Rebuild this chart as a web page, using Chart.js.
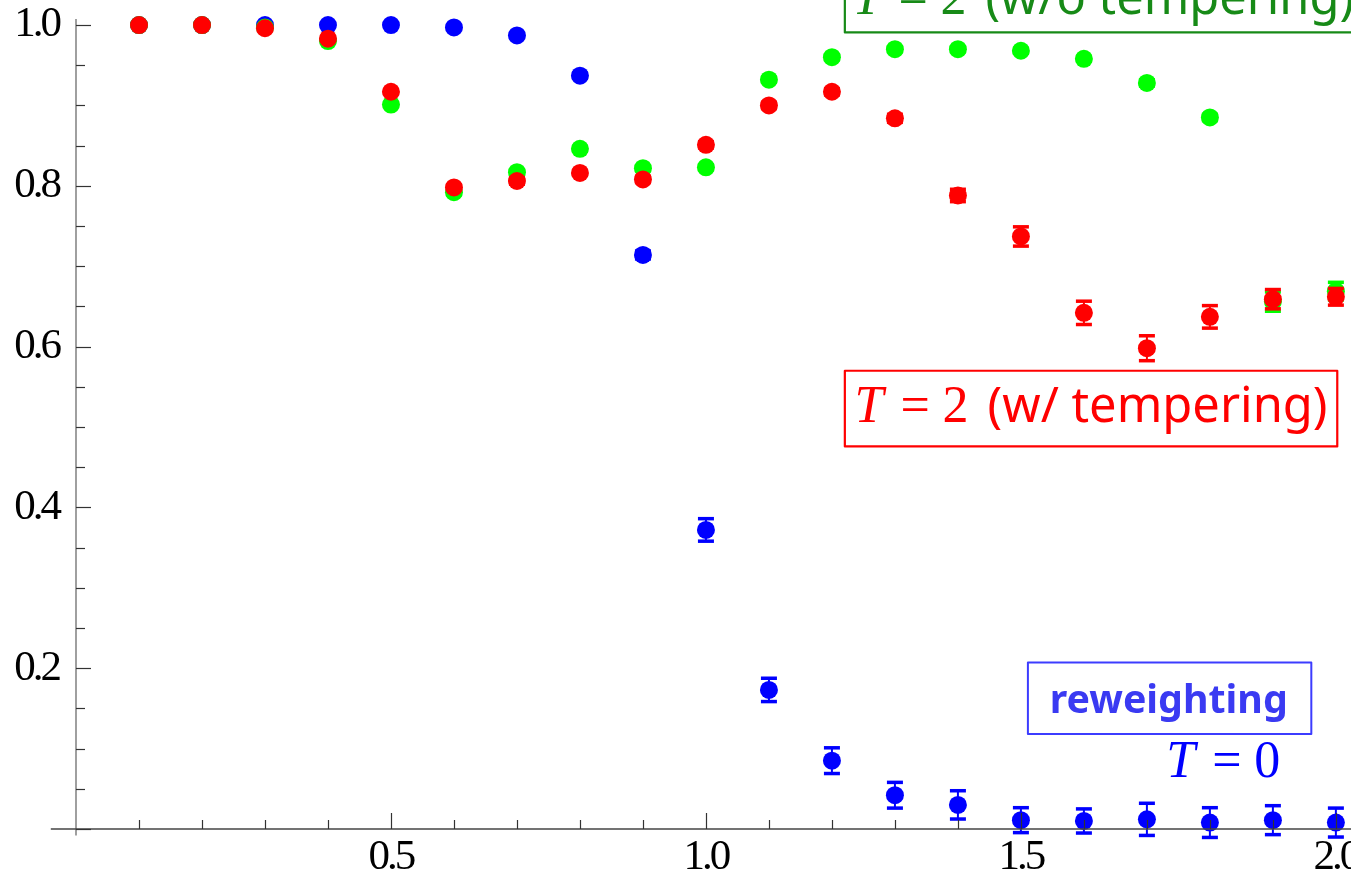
<!DOCTYPE html>
<html>
<head>
<meta charset="utf-8">
<script src="https://cdn.jsdelivr.net/npm/chart.js@4/dist/chart.umd.min.js"></script>
<style>
  html, body { margin: 0; padding: 0; background: #fff; overflow: hidden; }
  #wrap { width: 1351px; height: 883px; }
</style>
</head>
<body>
<div id="wrap"><canvas id="c" width="1351" height="883"></canvas></div>
<script>
// Coupling values on which the three runs were measured
const xValues = [0.1, 0.2, 0.3, 0.4, 0.5, 0.6, 0.7, 0.8, 0.9, 1.0,
                 1.1, 1.2, 1.3, 1.4, 1.5, 1.6, 1.7, 1.8, 1.9, 2.0];

// T = 0, reweighting
const reweightT0 = [1.000, 1.000, 1.000, 1.000, 1.000, 0.997, 0.987, 0.937, 0.714, 0.372,
                    0.173, 0.085, 0.042, 0.030, 0.011, 0.010, 0.012, 0.008, 0.011, 0.008];
const reweightT0Err = [0, 0, 0, 0, 0, 0.002, 0.002, 0.003, 0.005, 0.014,
                       0.0145, 0.016, 0.016, 0.0176, 0.0155, 0.015, 0.020, 0.0185, 0.018, 0.018];

// T = 2, without tempering
const noTemperT2 = [1.000, 1.000, 0.997, 0.980, 0.901, 0.792, 0.817, 0.846, 0.822, 0.823,
                    0.932, 0.960, 0.970, 0.970, 0.968, 0.958, 0.928, 0.885, 0.656, 0.669];
const noTemperT2Err = [0, 0, 0, 0.002, 0.002, 0.003, 0.003, 0.003, 0.003, 0.003,
                       0.003, 0.003, 0.003, 0.003, 0.003, 0.003, 0.004, 0.004, 0.012, 0.011];

// T = 2, with tempering
const temperT2 = [1.000, 1.000, 0.996, 0.983, 0.917, 0.798, 0.806, 0.816, 0.808, 0.851,
                  0.900, 0.917, 0.884, 0.788, 0.737, 0.642, 0.598, 0.637, 0.659, 0.662];
const temperT2Err = [0, 0, 0.002, 0.002, 0.002, 0.003, 0.004, 0.003, 0.004, 0.004,
                     0.004, 0.004, 0.005, 0.0077, 0.012, 0.0145, 0.0155, 0.014, 0.012, 0.0104];

// Labelled ticks
const xTickLabels = [0.5, 1.0, 1.5, 2.0];
const yTickLabels = [0.2, 0.4, 0.6, 0.8, 1.0];

const toPoints = (ys) => xValues.map((x, i) => ({ x: x, y: ys[i] }));

const SERIF = '"Liberation Serif", "Times New Roman", serif';
const SANS = '"Noto Sans", "Open Sans", sans-serif';

// Tight, Mathematica-like spacing for the numeric tick labels
const tightTicks = {
  id: 'tightTicks',
  beforeDraw(chart) { chart.ctx.letterSpacing = '-3px'; },
  afterDatasetsDraw(chart) { chart.ctx.letterSpacing = '0px'; }
};

// Vertical error bars, drawn just beneath each dataset's markers
const errorBars = {
  id: 'errorBars',
  beforeDatasetDraw(chart, args) {
    const ds = chart.data.datasets[args.index];
    if (!ds.errors) return;
    const ys = chart.scales.y;
    const ctx = chart.ctx;
    ctx.save();
    ctx.strokeStyle = ds.backgroundColor;
    ctx.fillStyle = ds.backgroundColor;
    ctx.lineWidth = 2;
    args.meta.data.forEach((pt, i) => {
      const e = ds.errors[i];
      if (!e) return;
      const v = ds.data[i].y;
      const top = ys.getPixelForValue(v + e);
      const bot = ys.getPixelForValue(v - e);
      ctx.beginPath();
      ctx.moveTo(pt.x, top);
      ctx.lineTo(pt.x, bot);
      ctx.stroke();
      ctx.fillRect(pt.x - 8, top - 1.75, 16, 3.5);
      ctx.fillRect(pt.x - 8, bot - 1.75, 16, 3.5);
    });
    ctx.restore();
  }
};

// Axes crossing at the origin with inward major/minor ticks, painted over the data
const crossAxes = {
  id: 'crossAxes',
  afterDatasetsDraw(chart) {
    const xs = chart.scales.x, ys = chart.scales.y, ctx = chart.ctx;
    const x0 = xs.getPixelForValue(0), y0 = ys.getPixelForValue(0);
    ctx.save();
    ctx.lineWidth = 1.4;
    ctx.strokeStyle = '#777';
    ctx.beginPath();
    ctx.moveTo(x0, ys.getPixelForValue(-0.008));
    ctx.lineTo(x0, ys.top);
    ctx.stroke();
    ctx.strokeStyle = '#444';
    ctx.beginPath();
    ctx.moveTo(xs.getPixelForValue(-0.04), y0);
    ctx.lineTo(xs.right, y0);
    ctx.stroke();

    ctx.lineWidth = 1.2;
    ctx.strokeStyle = '#333';
    for (let k = 0; k <= 20; k++) {
      const v = k * 0.05;
      const py = Math.round(ys.getPixelForValue(v)) + 0.5;
      const len = (k % 4 === 0) ? 15 : 9;
      ctx.beginPath();
      ctx.moveTo(x0, py);
      ctx.lineTo(x0 + len, py);
      ctx.stroke();
    }
    for (let k = 1; k <= 20; k++) {
      const v = k * 0.1;
      const px = Math.round(xs.getPixelForValue(v)) + 0.5;
      const len = (k % 5 === 0) ? 16 : 9;
      ctx.beginPath();
      ctx.moveTo(px, y0);
      ctx.lineTo(px, y0 - len);
      ctx.stroke();
    }
    ctx.restore();
  }
};

// Sans font sized so that a string spans a given width
function fitSans(ctx, text, weight, width) {
  ctx.font = weight + ' 100px ' + SANS;
  const size = 100 * width / ctx.measureText(text).width;
  return weight + ' ' + size.toFixed(2) + 'px ' + SANS;
}

// "T = n" in math style: italic T, upright equals sign and digit
function drawMath(ctx, xStart, base, digit, color) {
  ctx.fillStyle = color;
  ctx.textAlign = 'left';
  ctx.textBaseline = 'alphabetic';
  ctx.font = 'italic 52px ' + SERIF;
  ctx.fillText('T', xStart, base);
  ctx.font = '52px ' + SERIF;
  ctx.fillText('=', xStart + 46, base);
  ctx.fillText(digit, xStart + 88, base);
}

// Series labels in boxes
const seriesLabels = {
  id: 'seriesLabels',
  afterDraw(chart) {
    const xs = chart.scales.x, ys = chart.scales.y, ctx = chart.ctx;
    const X = (v) => xs.getPixelForValue(v);
    const Y = (v) => ys.getPixelForValue(v);
    ctx.save();
    ctx.letterSpacing = '0px';
    ctx.lineCap = 'round';
    ctx.lineJoin = 'round';

    // T = 2 (w/o tempering)
    const green = '#178a17';
    ctx.strokeStyle = green;
    ctx.lineWidth = 2.2;
    ctx.beginPath();
    ctx.moveTo(X(1.2205), Y(1.08));
    ctx.lineTo(X(1.2205), Y(0.9908));
    ctx.lineTo(X(2.2), Y(0.9908));
    ctx.stroke();
    drawMath(ctx, X(1.2325), Y(1.0140), '2', green);
    ctx.font = fitSans(ctx, '(w/o tempering', 'normal', 354);
    ctx.fillText('(w/o tempering)', X(1.2325) + 133, Y(1.0140));

    // T = 2 (w/ tempering)
    const red = '#ff0000';
    ctx.strokeStyle = red;
    ctx.lineWidth = 2.2;
    ctx.strokeRect(X(1.2205), Y(0.5700), X(2.0022) - X(1.2205), Y(0.4759) - Y(0.5700));
    drawMath(ctx, X(1.2360), Y(0.5064), '2', red);
    ctx.font = fitSans(ctx, '(w/ tempering)', 'normal', 340);
    ctx.fillText('(w/ tempering)', X(1.2360) + 133, Y(0.5064));

    // reweighting / T = 0
    ctx.strokeStyle = '#3c3cff';
    ctx.lineWidth = 2;
    ctx.strokeRect(X(1.5111), Y(0.2072), X(1.9610) - X(1.5111), Y(0.1182) - Y(0.2072));
    ctx.fillStyle = '#3a3af2';
    ctx.font = fitSans(ctx, 'reweighting', 'bold', 238);
    ctx.textAlign = 'center';
    ctx.fillText('reweighting', X(1.7347), Y(0.1443));
    drawMath(ctx, X(1.7308), Y(0.0647), '0', '#0000ff');
    ctx.restore();
  }
};

const markerStyle = (color, order) => ({
  backgroundColor: color,
  borderColor: color,
  borderWidth: 0,
  pointRadius: 9,
  pointHoverRadius: 9,
  showLine: false,
  clip: false,
  order: order
});

// Keep the plot area fixed: no extra room reserved for overhanging labels
const noLabelPadding = (s) => {
  s.paddingLeft = 0; s.paddingRight = 0; s.paddingTop = 0; s.paddingBottom = 0;
  s.getPadding = () => ({ left: 0, top: 0, right: 0, bottom: 0 });
};

new Chart(document.getElementById('c'), {
  type: 'scatter',
  data: {
    datasets: [
      Object.assign({ label: 'T = 0 (reweighting)', data: toPoints(reweightT0), errors: reweightT0Err }, markerStyle('#0000ff', 3)),
      Object.assign({ label: 'T = 2 (w/o tempering)', data: toPoints(noTemperT2), errors: noTemperT2Err }, markerStyle('#00ff00', 2)),
      Object.assign({ label: 'T = 2 (w/ tempering)', data: toPoints(temperT2), errors: temperT2Err }, markerStyle('#ff0000', 1))
    ]
  },
  options: {
    responsive: false,
    devicePixelRatio: 1,
    animation: false,
    events: [],
    layout: { autoPadding: false, padding: { top: 19, left: 0, right: 0, bottom: 0 } },
    plugins: { legend: { display: false }, tooltip: { enabled: false } },
    scales: {
      x: {
        type: 'linear',
        min: 0,
        max: 2.024,
        grid: { display: false, drawTicks: false },
        border: { display: false },
        afterFit: (s) => { s.height = 54; noLabelPadding(s); },
        afterBuildTicks: (s) => { s.ticks = xTickLabels.map(v => ({ value: v })); },
        ticks: {
          autoSkip: false,
          maxRotation: 0,
          padding: 3,
          color: '#000',
          font: { family: SERIF, size: 43 },
          callback: (v) => Number(v).toFixed(1)
        }
      },
      y: {
        type: 'linear',
        min: 0,
        max: 1.0075,
        grid: { display: false, drawTicks: false },
        border: { display: false },
        afterFit: (s) => { s.width = 76; noLabelPadding(s); },
        afterBuildTicks: (s) => { s.ticks = yTickLabels.map(v => ({ value: v })); },
        ticks: {
          autoSkip: false,
          padding: 17,
          color: '#000',
          font: { family: SERIF, size: 43 },
          callback: (v) => Number(v).toFixed(1)
        }
      }
    }
  },
  plugins: [tightTicks, errorBars, crossAxes, seriesLabels]
});
</script>
</body>
</html>
